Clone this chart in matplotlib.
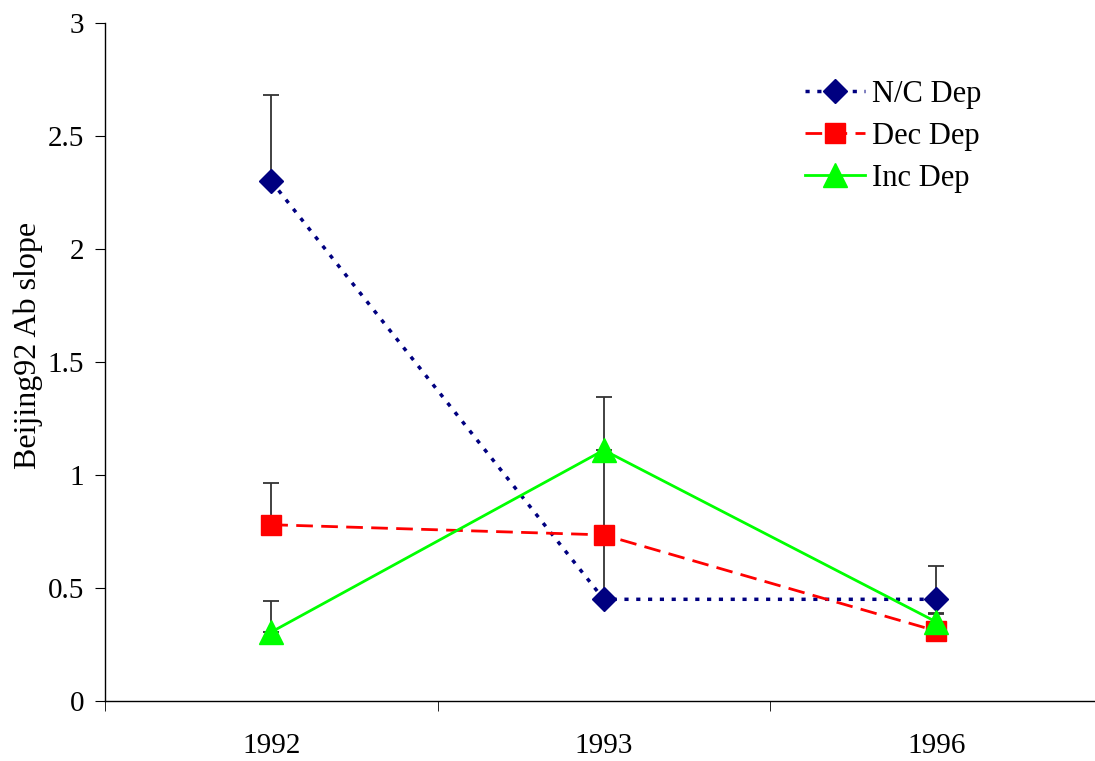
import matplotlib
matplotlib.use("Agg")
import matplotlib.pyplot as plt
import numpy as np

categories = ["1992", "1993", "1996"]
nc_dep = [2.30, 0.45, 0.45]
nc_err = [0.38, 0.30, 0.147]
dec_dep = [0.78, 0.735, 0.31]
dec_err = [0.185, 0.325, 0.08]
inc_dep = [0.305, 1.11, 0.35]
inc_err = [0.137, 0.235, 0.035]

plt.rcParams['font.family'] = ['Liberation Serif', 'DejaVu Serif']

fig = plt.figure(figsize=(10.95, 7.61), dpi=100)
ax = fig.add_axes([105/1095, 60/761, 997.5/1095, (701-23)/761])

x = np.arange(len(categories))
zero = np.zeros(len(categories))

for vals, err in [(nc_dep, nc_err), (dec_dep, dec_err), (inc_dep, inc_err)]:
    ax.errorbar(x, vals, yerr=[zero, err], fmt='none', ecolor='#333333',
                elinewidth=1.3, capsize=6, capthick=1.3, zorder=1)

ax.plot(x, nc_dep, color='#000080', linestyle=(0, (1.2, 2.2)), linewidth=2.5,
        marker='D', markersize=12.5, label='N/C Dep', zorder=3)
ax.plot(x, dec_dep, color='#FF0000', linestyle=(0, (6, 3)), linewidth=2,
        marker='s', markersize=15, label='Dec Dep', zorder=3)
ax.plot(x, inc_dep, color='#00FF00', linestyle='-', linewidth=2,
        marker='^', markersize=17, label='Inc Dep', zorder=4)

ax.set_xlim(-0.5, 2.5)
ax.set_ylim(0, 3)
ax.set_yticks([0, 0.5, 1, 1.5, 2, 2.5, 3])
ax.set_yticklabels(['0', '0.5', '1', '1.5', '2', '2.5', '3'])
ax.set_xticks(x)
ax.set_xticklabels(categories)
ax.set_xticks([-0.5, 0.5, 1.5, 2.5], minor=True)
ax.tick_params(axis='x', which='major', length=0, pad=23, labelsize=21)
ax.tick_params(axis='x', which='minor', length=7, direction='out')
ax.tick_params(axis='y', length=7, direction='out', labelsize=21, pad=8)

for s in ['top', 'right']:
    ax.spines[s].set_visible(False)
ax.spines['left'].set_linewidth(1)
ax.spines['bottom'].set_linewidth(1)

ax.set_ylabel('Beijing92 Ab slope', fontsize=23)
ax.yaxis.set_label_coords(-0.062, 0.525)

leg = fig.legend(loc='upper left', bbox_to_anchor=(805/1095, 1 - 80/761),
                 frameon=False, fontsize=22, handlelength=1.95,
                 labelspacing=0.42, handletextpad=0.25, borderpad=0,
                 borderaxespad=0)

fig.savefig('out.png', dpi=100)
